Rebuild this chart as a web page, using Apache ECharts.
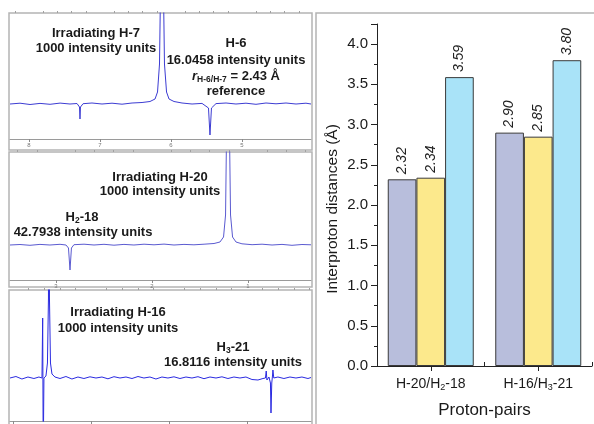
<!DOCTYPE html>
<html>
<head>
<meta charset="utf-8">
<script src="https://cdn.jsdelivr.net/npm/echarts@6/dist/echarts.min.js"></script>
<style>html,body{margin:0;padding:0;background:#fff}#c{width:594px;height:424px}</style>
</head>
<body>
<div id="c"></div>
<script>
// ---------- Bar chart data ----------
var categories = ['H-20/H2-18', 'H-16/H3-21'];
var series1 = [2.32, 2.90];
var series2 = [2.34, 2.85];
var series3 = [3.59, 3.80];
var yTickValues = [0, 0.5, 1, 1.5, 2, 2.5, 3, 3.5, 4];

// ---------- Spectrum 1 (irradiating H-7) ----------
var spec1Ppm = [8.268,8.127,7.986,7.845,7.704,7.563,7.423,7.324,7.289,7.282,7.275,7.239,7.113,6.972,6.831,6.690,6.549,6.408,6.296,6.225,6.190,6.162,6.141,6.127,6.113,6.092,6.063,6.028,5.958,5.845,5.704,5.563,5.472,5.451,5.430,5.366,5.225,5.085,4.944,4.803,4.662,4.521,4.380,4.239,4.099,4.028];
var spec1Int = [0,0.8,-0.5,0.6,-0.3,0.9,0,0.5,-3,-15,-3,0.3,1,0,0.8,-0.2,1,1.5,2.5,5,12,40,150,1000,150,40,12,5,2.5,1,0,0.6,-4,-31,-4,0.4,1,0,0.8,-0.3,1,0.2,1,0,0.8,0];
var spec1Major = [8, 7, 6, 5];
var spec1Minor = [8.2,7.8,7.6,7.4,7.2,6.8,6.6,6.4,6.2,5.8,5.6,5.4,5.2,4.8,4.6,4.4,4.2];

// ---------- Spectrum 2 (irradiating H-20) ----------
var spec2Ppm = [3.479,3.375,3.271,3.167,3.063,2.958,2.896,2.870,2.854,2.839,2.813,2.708,2.604,2.5,2.396,2.292,2.188,2.083,1.979,1.875,1.771,1.667,1.563,1.458,1.354,1.292,1.255,1.234,1.219,1.208,1.198,1.182,1.161,1.125,1.063,0.958,0.854,0.75,0.646,0.542,0.438,0.344];
var spec2Int = [0,0.5,-0.3,0.6,0,0.7,0,-3,-25,-3,0.3,0.8,0,0.7,-0.2,0.6,0,0.8,0.2,0.9,0,0.6,0.2,0.8,1.5,3,8,30,150,1000,150,30,8,3,1.2,0.3,0.8,0,0.6,-0.3,0.5,0.2];
var spec2Major = [3, 2, 1];
var spec2Minor = [3.4,3.2,2.8,2.6,2.4,2.2,1.8,1.6,1.4,1.2,0.8,0.6,0.4];

// ---------- Spectrum 3 (irradiating H-16) ----------
var spec3Ppm = [5.038,4.962,4.885,4.808,4.731,4.667,4.628,4.619,4.612,4.603,4.577,4.558,4.545,4.538,4.532,4.519,4.5,4.462,4.397,4.321,4.244,4.167,4.090,4.013,3.936,3.859,3.782,3.705,3.628,3.551,3.474,3.397,3.321,3.244,3.167,3.090,3.013,2.936,2.859,2.782,2.705,2.628,2.551,2.474,2.397,2.321,2.244,2.167,2.090,2.013,1.936,1.859,1.795,1.763,1.753,1.744,1.718,1.699,1.692,1.682,1.673,1.667,1.656,1.603,1.526,1.449,1.372,1.295,1.218,1.179];
var spec3Int = [0,1.5,-1,1,-0.5,1,0,60,-80,0,2,15,80,1000,80,15,4,1,-0.5,1.5,-1,1,-0.5,1.2,0,1,-0.8,1.3,0,1,-0.5,1.5,0,1,-1,1,0,1.2,-0.5,1,0,1.3,-0.7,1,0,1.2,-0.5,1,0,1,-1.5,-2,-0.5,0,7,-2,1,-5,-35,-5,2,8,0,1,-0.5,1,0,1,-0.5,0.5];
var spec3Major = [5, 4, 3, 2];
var spec3Minor = [4.8,4.6,4.4,4.2,3.8,3.6,3.4,3.2,2.8,2.6,2.4,2.2,1.8,1.6,1.4,1.2];

function zip(a, b) { return a.map(function (v, i) { return [v, b[i]]; }); }

var FONT = '"Liberation Sans", Arial, Helvetica, sans-serif';
var TXT = '#1a1a1a';

function specAxes(grid, min, max, major, minor, showLabels) {
  return [
    { gridIndex: grid, type: 'value', inverse: true, min: min, max: max,
      axisLine: { onZero: false, lineStyle: { color: '#9a9a9a', width: 1 } },
      axisTick: { show: true, customValues: major, length: 3, lineStyle: { color: '#8a8a8a' } },
      axisLabel: { show: showLabels, customValues: major, fontSize: 6, margin: 3, color: '#777', fontFamily: FONT },
      splitLine: { show: false } },
    { gridIndex: grid, type: 'value', inverse: true, min: min, max: max,
      axisLine: { show: false, onZero: false },
      axisTick: { show: true, customValues: minor, length: 2, lineStyle: { color: '#a0a0a0' } },
      axisLabel: { show: false },
      splitLine: { show: false } }
  ];
}

var boldRich = {
  b: { fontSize: 13, fontWeight: 'bold', fontFamily: FONT, color: TXT, lineHeight: 16 },
  s: { fontSize: 8.5, fontWeight: 'bold', fontFamily: FONT, color: TXT, lineHeight: 9, verticalAlign: 'bottom' },
  i: { fontSize: 13, fontWeight: 'bold', fontStyle: 'italic', fontFamily: FONT, color: TXT, lineHeight: 16 }
};
function label(x, y, text) {
  return { type: 'text', x: x, y: y, z: 100,
    style: { text: text, rich: boldRich, align: 'center', verticalAlign: 'middle',
      fontSize: 13, fontWeight: 'bold', fontFamily: FONT, fill: TXT } };
}

var chart = echarts.init(document.getElementById('c'), null, { renderer: 'canvas' });
var option = {
  animation: false,
  backgroundColor: '#fff',
  grid: [
    { left: 10, right: 283, top: 13, bottom: 285 },
    { left: 10, right: 283, top: 152, bottom: 144 },
    { left: 10, right: 283, top: 290, bottom: 3 },
    { left: 377, right: 2, top: 24, bottom: 55 }
  ],
  xAxis: [].concat(
    specAxes(0, 4.028, 8.268, spec1Major, spec1Minor, true),
    specAxes(1, 0.344, 3.479, spec2Major, spec2Minor, true),
    specAxes(2, 1.179, 5.038, spec3Major, spec3Minor, false),
    [
      { gridIndex: 3, type: 'category', data: categories, z: 10,
        axisLine: { show: true, onZero: false, lineStyle: { color: '#222', width: 1 } },
        axisTick: { show: true, alignWithLabel: true, length: 5, lineStyle: { color: '#222', width: 1 } },
        axisLabel: { show: true, interval: 0, margin: 10, fontSize: 14, color: TXT, fontFamily: FONT,
          formatter: function (v) { return v.replace(/\/H(\d)-/, '/H{s|$1}-').replace(/^/, '{a|').replace(/\{s\|(\d)\}/, '}{s|$1}{a|') + '}'; },
          rich: {
            a: { fontSize: 14, fontFamily: FONT, color: TXT, lineHeight: 16 },
            s: { fontSize: 9, fontFamily: FONT, color: TXT, lineHeight: 9, verticalAlign: 'bottom' }
          } },
        name: 'Proton-pairs', nameLocation: 'middle', nameGap: 36,
        nameTextStyle: { fontSize: 17, color: TXT, fontFamily: FONT } },
      { gridIndex: 3, type: 'category', data: categories, position: 'bottom', z: 10,
        axisLine: { show: false, onZero: false },
        axisTick: { show: true, inside: true, interval: 0, length: 4, lineStyle: { color: '#222', width: 1 } },
        axisLabel: { show: false, interval: 0 } }
    ]
  ),
  yAxis: [
    { gridIndex: 0, type: 'value', min: -35, max: 91, show: false },
    { gridIndex: 1, type: 'value', min: -35, max: 93, show: false },
    { gridIndex: 2, type: 'value', min: -43, max: 88, show: false },
    { gridIndex: 3, type: 'value', min: 0, max: 4.25, interval: 0.5, z: 10,
      axisLine: { show: true, onZero: false, lineStyle: { color: '#222', width: 1 } },
      axisTick: { show: true, length: 6, lineStyle: { color: '#222', width: 1 } },
      minorTick: { show: true, splitNumber: 2, length: 3, lineStyle: { color: '#222', width: 1 } },
      axisLabel: { fontSize: 15, color: TXT, margin: 9, fontFamily: FONT, showMaxLabel: false,
        formatter: function (v) { return yTickValues.indexOf(v) >= 0 ? v.toFixed(1) : ''; } },
      splitLine: { show: false } }
  ],
  series: [
    { type: 'line', xAxisIndex: 0, yAxisIndex: 0, data: zip(spec1Ppm, spec1Int), showSymbol: false, clip: true,
      lineStyle: { color: '#3c3cd2', width: 1 } },
    { type: 'line', xAxisIndex: 2, yAxisIndex: 1, data: zip(spec2Ppm, spec2Int), showSymbol: false, clip: true,
      lineStyle: { color: '#5a5ad0', width: 1 } },
    { type: 'line', xAxisIndex: 4, yAxisIndex: 2, data: zip(spec3Ppm, spec3Int), showSymbol: false, clip: true,
      lineStyle: { color: '#2a2ae0', width: 1 } },
    { type: 'bar', name: 'A', xAxisIndex: 6, yAxisIndex: 3, data: series1, barGap: 0, barCategoryGap: '20%',
      itemStyle: { color: '#b8bedc', borderColor: '#3a3a3a', borderWidth: 1 } },
    { type: 'bar', name: 'B', xAxisIndex: 6, yAxisIndex: 3, data: series2, barGap: 0, barCategoryGap: '20%',
      itemStyle: { color: '#fce98c', borderColor: '#3a3a3a', borderWidth: 1 } },
    { type: 'bar', name: 'C', xAxisIndex: 6, yAxisIndex: 3, data: series3, barGap: 0, barCategoryGap: '20%',
      itemStyle: { color: '#a9e3f8', borderColor: '#3a3a3a', borderWidth: 1 } }
  ].map(function (s) {
    if (s.type === 'bar') {
      s.label = { show: true, position: 'top', rotate: 90, align: 'left', verticalAlign: 'middle', distance: 5,
        fontSize: 14, fontStyle: 'italic', color: '#222', fontFamily: FONT,
        formatter: function (p) { return p.value.toFixed(2); } };
    }
    return s;
  }),
  graphic: [
    { type: 'rect', shape: { x: 9, y: 13, width: 303, height: 137 }, style: { fill: null, stroke: '#b4b4b4', lineWidth: 1.5 }, silent: true },
    { type: 'rect', shape: { x: 9, y: 152, width: 303, height: 135 }, style: { fill: null, stroke: '#b4b4b4', lineWidth: 1.5 }, silent: true },
    { type: 'rect', shape: { x: 9, y: 290, width: 303, height: 140 }, style: { fill: null, stroke: '#b4b4b4', lineWidth: 1.5 }, silent: true },
    { type: 'rect', shape: { x: 316, y: 13, width: 290, height: 420 }, style: { fill: null, stroke: '#b4b4b4', lineWidth: 1.5 }, silent: true },
    label(96, 33, '{b|Irradiating H-7}'),
    label(96, 48, '{b|1000 intensity units}'),
    label(236, 43, '{b|H-6}'),
    label(236, 60, '{b|16.0458 intensity units}'),
    label(236, 76, '{i|r}{s|H-6/H-7}{b| = 2.43 Å}'),
    label(236, 91, '{b|reference}'),
    label(160, 177, '{b|Irradiating H-20}'),
    label(160, 191, '{b|1000 intensity units}'),
    label(82, 217, '{b|H}{s|2}{b|-18}'),
    label(83, 232, '{b|42.7938 intensity units}'),
    label(118, 312, '{b|Irradiating H-16}'),
    label(118, 328, '{b|1000 intensity units}'),
    label(233, 347, '{b|H}{s|3}{b|-21}'),
    label(233, 362, '{b|16.8116 intensity units}'),
    { type: 'text', x: 333, y: 209, rotation: Math.PI / 2, z: 100,
      style: { text: 'Interproton distances (Å)', align: 'center', verticalAlign: 'middle',
        fontSize: 15.5, fontFamily: FONT, fill: TXT } }
  ]
};
chart.setOption(option);
</script>
</body>
</html>
